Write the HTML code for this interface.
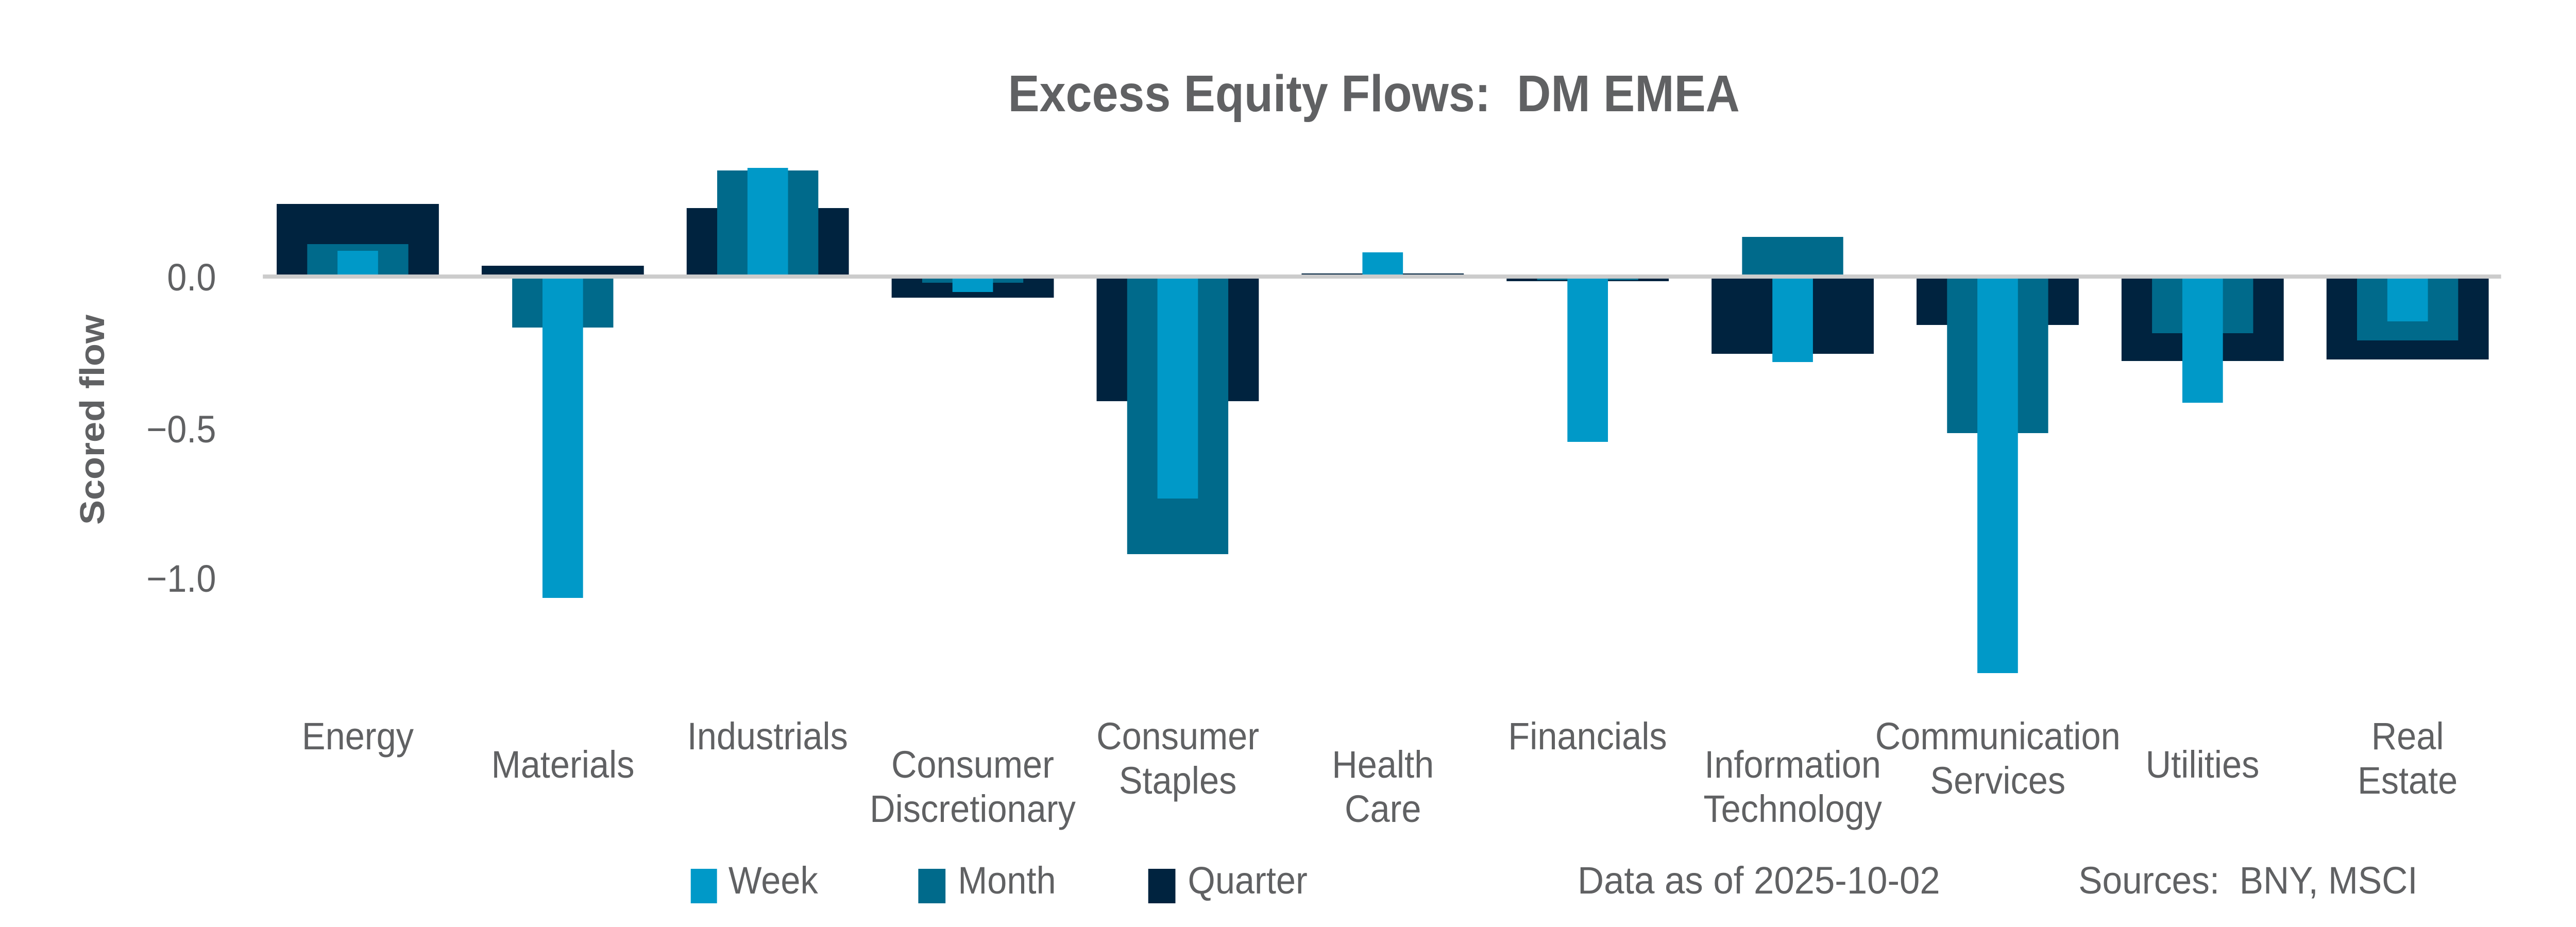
<!DOCTYPE html>
<html><head><meta charset="utf-8"><style>
html,body{margin:0;padding:0;background:#fff;width:100%;height:100%;overflow:hidden;}
svg{display:block;width:100vw;height:100vh;}
text{font-family:"Liberation Sans",sans-serif;fill:#606163;}
</style></head><body>
<svg viewBox="0 0 5400 1800" preserveAspectRatio="none" xmlns="http://www.w3.org/2000/svg">
<rect width="5400" height="1800" fill="#fff"/>
<text x="2880" y="216" font-size="100" font-weight="bold" text-anchor="middle" textLength="1534" lengthAdjust="spacingAndGlyphs" xml:space="preserve">Excess Equity Flows:  DM EMEA</text>
<text transform="translate(218,815) rotate(-90)" font-size="72" font-weight="bold" text-anchor="middle">Scored flow</text>
<g font-size="74" text-anchor="end" style="fill:#666">
<text x="453" y="564">0.0</text>
<text x="453" y="859">−0.5</text>
<text x="453" y="1149">−1.0</text>
</g>
<g transform="translate(0,7)">
<g transform="translate(10,0)"><rect x="570" y="389" width="340" height="141" fill="#00233f"/><rect x="634" y="467" width="212" height="63" fill="#006a8b"/><rect x="697.5" y="480" width="85" height="50" fill="#0099c8"/></g>
<g transform="translate(15.1,0)"><rect x="994.6" y="509" width="340" height="21" fill="#00233f"/><rect x="1058.6" y="530" width="212" height="99" fill="#006a8b"/><rect x="1122.1" y="530" width="85" height="624" fill="#0099c8"/></g>
<g transform="translate(20.2,0)"><rect x="1419.2" y="397" width="340" height="133" fill="#00233f"/><rect x="1483.2" y="324" width="212" height="206" fill="#006a8b"/><rect x="1546.7" y="319" width="85" height="211" fill="#0099c8"/></g>
<g transform="translate(25.3,0)"><rect x="1843.8" y="530" width="340" height="41" fill="#00233f"/><rect x="1907.8" y="530" width="212" height="12" fill="#006a8b"/><rect x="1971.3" y="530" width="85" height="30" fill="#0099c8"/></g>
<g transform="translate(30.4,0)"><rect x="2268.4" y="530" width="340" height="242" fill="#00233f"/><rect x="2332.4" y="530" width="212" height="539" fill="#006a8b"/><rect x="2395.9" y="530" width="85" height="431" fill="#0099c8"/></g>
<g transform="translate(35.5,0)"><rect x="2693" y="524" width="340" height="6" fill="#00233f"/><rect x="2757" y="526" width="212" height="4" fill="#006a8b"/><rect x="2820.5" y="483" width="85" height="47" fill="#0099c8"/></g>
<g transform="translate(40.6,0)"><rect x="3117.6" y="530" width="340" height="9" fill="#00233f"/><rect x="3181.6" y="530" width="212" height="7" fill="#006a8b"/><rect x="3245.1" y="530" width="85" height="321" fill="#0099c8"/></g>
<g transform="translate(45.7,0)"><rect x="3542.2" y="530" width="340" height="150" fill="#00233f"/><rect x="3606.2" y="453" width="212" height="77" fill="#006a8b"/><rect x="3669.7" y="530" width="85" height="166" fill="#0099c8"/></g>
<g transform="translate(50.8,0)"><rect x="3966.8" y="530" width="340" height="94" fill="#00233f"/><rect x="4030.8" y="530" width="212" height="304" fill="#006a8b"/><rect x="4094.3" y="530" width="85" height="770" fill="#0099c8"/></g>
<g transform="translate(55.9,0)"><rect x="4391.4" y="530" width="340" height="164" fill="#00233f"/><rect x="4455.4" y="530" width="212" height="110" fill="#006a8b"/><rect x="4518.9" y="530" width="85" height="245" fill="#0099c8"/></g>
<g transform="translate(61,0)"><rect x="4816" y="530" width="340" height="161" fill="#00233f"/><rect x="4880" y="530" width="212" height="124" fill="#006a8b"/><rect x="4943.5" y="530" width="85" height="87" fill="#0099c8"/></g>
<rect x="551" y="526" width="4692" height="8" fill="#cccccc"/>
</g>
<g font-size="74" text-anchor="middle" style="fill:#666" transform="translate(0,20)">
<text x="750" y="1435">Energy</text>
<text x="1180" y="1490">Materials</text>
<text x="1609" y="1435">Industrials</text>
<text x="2039" y="1490">Consumer</text><text x="2039" y="1576">Discretionary</text>
<text x="2469" y="1435">Consumer</text><text x="2469" y="1521">Staples</text>
<text x="2899" y="1490">Health</text><text x="2899" y="1576">Care</text>
<text x="3328" y="1435">Financials</text>
<text x="3758" y="1490">Information</text><text x="3758" y="1576">Technology</text>
<text x="4188" y="1435">Communication</text><text x="4188" y="1521">Services</text>
<text x="4617" y="1490">Utilities</text>
<text x="5047" y="1435">Real</text><text x="5047" y="1521">Estate</text>
</g>
<g transform="translate(0,12)">
<rect x="1448" y="1675" width="55" height="67" fill="#0099c8"/>
<rect x="1925" y="1675" width="57" height="67" fill="#006a8b"/>
<rect x="2407" y="1675" width="57" height="67" fill="#00233f"/>
<g font-size="74" style="fill:#666">
<text x="1527" y="1723">Week</text>
<text x="2008" y="1723">Month</text>
<text x="2490" y="1723">Quarter</text>
<text x="3307" y="1723" textLength="760" lengthAdjust="spacingAndGlyphs">Data as of 2025-10-02</text>
<text x="4357" y="1723" textLength="711" lengthAdjust="spacingAndGlyphs" xml:space="preserve">Sources:  BNY, MSCI</text>
</g>
</g>
</svg>
</body></html>
